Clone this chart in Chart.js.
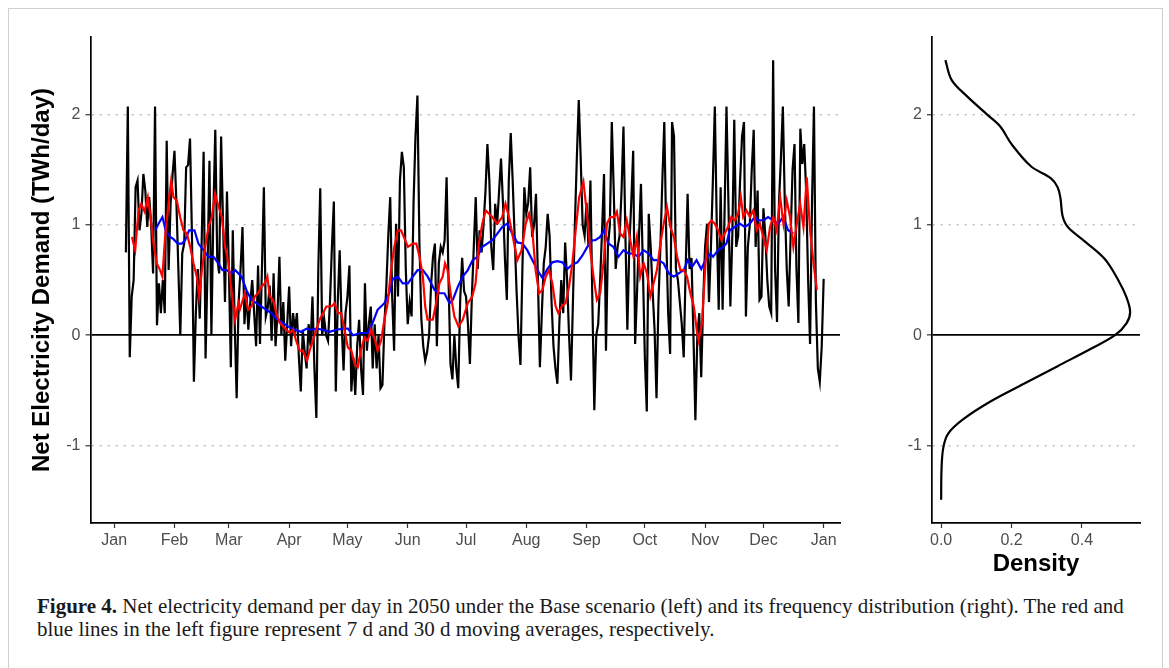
<!DOCTYPE html>
<html>
<head>
<meta charset="utf-8">
<script src="https://cdn.jsdelivr.net/npm/chart.js@4.4.1/dist/chart.umd.min.js"></script>
<style>
  body { margin: 0; background: #fff; width: 1169px; height: 668px; overflow: hidden; position: relative; }
  #frame { position: absolute; left: 8px; top: 8px; width: 1153px; height: 720px; border: 1.5px solid #cfcfcf; }
  #demandCanvas { position: absolute; left: 0; top: 0; }
  #densityCanvas { position: absolute; left: 880px; top: 0; }
  #caption { position: absolute; left: 37px; top: 595px; font-family: 'Liberation Serif', 'Times New Roman', serif; font-size: 21px; line-height: 23px; color: #1a1a1a; white-space: nowrap; }
</style>
</head>
<body>
<div id="frame"></div>
<canvas id="demandCanvas" width="860" height="590"></canvas>
<canvas id="densityCanvas" width="289" height="590"></canvas>
<div id="caption"><b>Figure 4.</b> Net electricity demand per day in 2050 under the Base scenario (left) and its frequency distribution (right). The red and<br>blue lines in the left figure represent 7 d and 30 d moving averages, respectively.</div>
<script>
// axis ticks
const monthTicks = [0, 31, 59, 90, 120, 151, 181, 212, 243, 273, 304, 334, 365];
const monthLabels = ['Jan', 'Feb', 'Mar', 'Apr', 'May', 'Jun', 'Jul', 'Aug', 'Sep', 'Oct', 'Nov', 'Dec', 'Jan'];
const demandTicks = [-1, 0, 1, 2];
const densityTicks = [0, 0.2, 0.4];

// daily net demand (TWh/day), one value per day starting at day 6 of the year
const firstDay = 6;
const dailyDemand = [
  0.75, 2.07, -0.2, 0.35, 0.5, 1.34, 1.4, 0.95, 1.1, 1.46,
  1.31, 0.98, 1.25, 1.0, 0.56, 2.07, 0.09, 0.47, 0.2, 0.5,
  0.2, 1.76, 0.59, 1.19, 1.45, 1.67, 1.2, 0.6, 0.0, 0.74,
  0.83, 1.52, 1.54, 1.78, 0.9, -0.42, 0.2, 0.6, 0.15, 0.85,
  1.66, -0.21, 0.6, 1.58, 0.0, 1.1, 1.86, 0.7, 0.56, 1.8,
  1.0, 0.3, 1.3, 0.6, -0.29, 0.95, 0.1, -0.57, 0.3, 0.6,
  0.98, 0.1, 0.4, 0.05, 0.3, 0.5, 0.2, -0.1, 0.63, -0.08,
  0.6, 1.34, 0.17, 0.25, 0.45, -0.05, 0.56, -0.1, 0.2, 0.71,
  0.0, 0.3, -0.23, 0.1, 0.44, -0.1, 0.2, 0.05, 0.2, -0.2,
  -0.51, 0.05, -0.15, -0.3, 0.1, -0.1, 0.35, -0.3, -0.75, 0.6,
  1.33, 0.0, 0.15, 0.0, -0.05, 0.3, 0.8, 1.21, -0.51, 0.3,
  0.77, 0.1, -0.32, 0.2, 0.35, 0.63, -0.51, -0.2, -0.54, -0.1,
  0.14, -0.3, -0.54, 0.47, -0.14, 0.1, 0.26, -0.3, 0.1, -0.3,
  0.0, -0.48, -0.45, 0.1, 0.44, 0.9, 1.25, 0.35, -0.14, 1.01,
  0.35, 1.4, 1.66, 1.52, 0.6, 0.1, 0.3, 0.17, 1.2, 1.8,
  2.17, 0.85, 0.15, -0.1, -0.23, -0.15, 0.0, 0.45, 0.71, 0.83,
  -0.1, 0.65, 0.8, 0.75, 0.86, 1.43, 0.5, -0.26, -0.4, 0.0,
  -0.3, -0.48, 0.32, 0.7, 0.4, 0.35, 0.1, -0.26, 0.35, 0.8,
  1.25, 0.6, 0.95, 0.75, 1.0, 1.3, 1.73, 1.4, 0.8, 0.59,
  1.19, 1.0, 1.3, 1.6, 1.2, 0.7, 0.32, 1.4, 1.83, 1.4,
  0.9, 0.4, 0.0, -0.27, 0.6, 1.34, 1.1, 1.2, 1.52, 0.89,
  1.0, 1.28, 0.5, -0.29, 0.2, 0.65, 0.8, 1.1, 0.9, 0.3,
  -0.1, -0.3, -0.44, 0.1, 0.5, 0.2, 0.84, 0.5, 0.0, -0.41,
  0.3, 1.0, 1.6, 2.13, 1.6, 1.0, 0.9, 1.2, 0.8, 1.4,
  0.3, -0.68, 0.0, 0.1, 0.5, 0.95, 1.46, -0.14, 0.8, 1.0,
  1.93, 1.3, 0.6, 0.8, 0.9, 1.3, 1.89, 0.9, 0.05, 0.8,
  1.2, 1.67, -0.08, 0.4, 0.9, 1.37, 0.6, -0.2, -0.69, 1.1,
  0.8, 0.4, 0.05, -0.57, 0.3, 0.8, 1.4, 1.93, 0.9, 0.2,
  -0.17, 1.93, 1.8, 0.6, 0.5, 0.3, 0.1, -0.2, 0.6, 1.28,
  0.6, 0.7, 0.0, -0.77, 0.0, 0.2, -0.38, 0.3, 0.8, 1.01,
  0.3, 0.8, 1.4, 2.07, 1.0, 0.23, 1.34, 0.23, 1.1, 2.07,
  1.2, 0.26, 0.9, 1.95, 0.8, 0.9, 1.4, 1.8, 1.93, 0.17,
  0.8, 1.0, 1.5, 1.86, 0.8, 1.31, 0.32, 0.35, 1.15, 0.9,
  0.5, 0.26, 0.2, 2.49, 0.6, 0.12, 1.2, 1.6, 2.07, 1.2,
  0.6, 0.26, 0.9, 1.5, 1.73, 0.6, 0.11, 1.87, 1.55, 1.73,
  1.3, 0.5, -0.08, 1.2, 2.07, 0.3, -0.3, -0.42, -0.1, 0.51
];

// 7 d moving average (red)
const ma7Days = [
  9.1, 10.8, 12.5, 13.9, 15.6, 17.3, 18.5, 20.2, 21.9, 23.6, 24.8, 26.2, 27.9, 29.3, 30.5, 32.2, 33.9, 35.6, 37.4, 39.1,
  40.8, 42.5, 43.7, 45.1, 46.8, 48.5, 50.2, 51.9, 53.3, 55.3, 57.1, 58.8, 60.5, 62.2, 63.9, 64.6, 67.2, 68.9, 70.6, 72.3,
  74.0, 75.7, 77.5, 78.8, 80.0, 81.7, 83.4, 85.2, 86.9, 88.6, 90.3, 92.0, 93.6, 95.4, 97.0, 99.2, 100.5, 102.2, 104.0, 105.7,
  107.4, 109.1, 111.7, 113.4, 115.1, 116.8, 118.5, 120.2, 122.0, 123.7, 125.3, 126.9, 128.7, 130.4, 132.1, 133.8, 135.5, 137.3, 139.0, 140.7,
  142.4, 144.1, 145.9, 147.6, 151.1, 153.6, 155.4, 157.1, 158.8, 160.0, 161.2, 163.9, 165.6, 167.3, 169.0, 170.2, 171.5, 173.3, 175.0, 177.1,
  179.3, 181.9, 184.2, 185.9, 187.6, 189.4, 191.1, 192.8, 194.5, 197.1, 199.6, 201.3, 203.1, 205.1, 207.4, 209.6, 211.7, 213.4, 215.1, 216.8,
  218.6, 220.3, 222.0, 223.7, 225.4, 227.1, 228.5, 230.2, 232.2, 234.0, 235.7, 237.4, 239.2, 241.4, 243.4, 244.9, 246.6, 248.3, 250.0, 251.7,
  253.5, 255.2, 257.2, 258.6, 260.3, 262.0, 263.7, 265.5, 267.2, 268.9, 270.6, 272.4, 274.1, 275.8, 277.5, 279.2, 281.0, 282.7, 284.4, 286.1,
  287.9, 289.6, 291.3, 293.0, 294.7, 296.4, 298.2, 299.9, 300.7, 302.4, 304.2, 305.9, 307.3, 309.0, 310.7, 312.4, 314.1, 315.8, 317.5, 319.3,
  321.0, 322.4, 323.6, 325.3, 327.0, 328.8, 330.5, 332.2, 333.9, 335.7, 337.4, 339.1, 340.8, 342.6, 344.3, 346.0, 347.7, 349.4, 351.2, 352.9,
  354.6, 356.3, 358.0, 359.8, 361.5
];
const ma7Values = [
  0.89, 0.77, 1.13, 1.19, 1.12, 1.25, 1.1, 0.83, 0.65, 0.59, 0.53, 0.89, 1.19, 1.4, 1.25, 1.22, 1.07, 0.95, 0.92, 0.8,
  0.65, 0.53, 0.35, 0.59, 0.8, 0.98, 1.07, 1.28, 1.19, 1.07, 0.8, 0.65, 0.38, 0.14, 0.29, 0.23, 0.38, 0.23, 0.26, 0.35,
  0.38, 0.44, 0.47, 0.53, 0.35, 0.32, 0.2, 0.11, 0.08, 0.05, 0.02, 0.05, -0.05, -0.14, -0.14, -0.23, -0.14, -0.05, 0.05, 0.14,
  0.2, 0.26, 0.26, 0.29, 0.2, 0.2, 0.05, -0.11, -0.14, -0.26, -0.29, -0.14, -0.02, -0.05, 0.05, -0.02, -0.14, -0.05, 0.14, 0.29,
  0.59, 0.8, 0.95, 0.95, 0.8, 0.83, 0.83, 0.71, 0.53, 0.26, 0.14, 0.14, 0.29, 0.47, 0.53, 0.65, 0.59, 0.35, 0.17, 0.08,
  0.14, 0.29, 0.35, 0.47, 0.83, 1.01, 1.13, 1.1, 1.07, 1.01, 1.07, 1.19, 1.07, 0.89, 0.68, 0.77, 1.01, 1.1, 0.95, 0.59,
  0.38, 0.41, 0.53, 0.59, 0.47, 0.26, 0.2, 0.26, 0.29, 0.44, 0.65, 0.95, 1.25, 1.39, 1.07, 0.77, 0.53, 0.32, 0.38, 0.65,
  1.01, 1.07, 1.07, 1.12, 0.92, 0.89, 1.04, 0.86, 0.71, 0.89, 0.53, 0.65, 0.56, 0.35, 0.47, 0.59, 0.83, 1.01, 1.16, 0.98,
  0.89, 0.71, 0.59, 0.59, 0.53, 0.38, 0.26, 0.02, -0.05, 0.11, 0.65, 1.01, 1.04, 1.01, 0.95, 0.86, 0.92, 0.98, 1.07, 1.04,
  1.1, 1.25, 1.07, 1.13, 1.07, 1.13, 0.95, 1.01, 0.89, 0.77, 0.98, 1.07, 0.95, 1.25, 1.01, 1.22, 1.07, 0.8, 1.01, 1.19,
  0.98, 1.43, 0.95, 0.65, 0.41
];

// 30 d moving average (blue)
const ma30Days = [
  21.1, 22.8, 24.8, 26.5, 28.8, 30.5, 32.7, 34.8, 36.5, 38.5, 41.3, 43.3, 45.9, 48.5, 51.1, 53.6, 55.7, 57.9, 60.5, 62.2,
  63.9, 65.5, 68.0, 70.6, 73.2, 75.7, 78.3, 80.9, 83.4, 86.9, 89.4, 92.9, 96.3, 98.9, 101.4, 104.0, 107.4, 110.9, 114.3, 117.7,
  120.2, 122.8, 126.9, 130.4, 132.9, 135.5, 139.0, 141.5, 143.3, 145.9, 148.4, 151.1, 153.6, 156.1, 158.8, 161.3, 164.8, 167.3, 169.9, 172.5,
  174.2, 176.8, 179.3, 181.9, 184.4, 186.8, 189.4, 191.9, 194.5, 197.1, 199.6, 202.2, 204.8, 207.4, 210.0, 212.5, 215.1, 217.7, 220.3, 222.9,
  225.4, 228.0, 230.6, 233.2, 235.7, 238.3, 240.8, 243.4, 246.0, 247.5, 250.0, 252.1, 254.3, 256.8, 259.4, 262.0, 264.5, 267.1, 269.7, 272.4,
  274.9, 277.5, 280.1, 282.7, 285.3, 287.9, 290.4, 293.0, 295.1, 297.3, 299.6, 302.0, 304.2, 306.8, 308.1, 310.7, 313.3, 315.0, 316.7, 319.3,
  321.8, 324.4, 327.0, 329.6, 331.3, 333.9, 336.4, 339.0, 341.6, 344.2, 346.7, 349.4
];
const ma30Values = [
  0.95, 1.01, 1.07, 0.95, 0.89, 0.87, 0.83, 0.83, 0.86, 0.95, 0.95, 0.83, 0.77, 0.71, 0.71, 0.65, 0.59, 0.59, 0.56, 0.59,
  0.56, 0.53, 0.41, 0.32, 0.29, 0.26, 0.23, 0.2, 0.15, 0.11, 0.08, 0.05, 0.03, 0.06, 0.05, 0.06, 0.05, 0.03, 0.05, 0.06,
  0.06, 0.0, 0.02, 0.02, 0.11, 0.23, 0.29, 0.38, 0.51, 0.53, 0.47, 0.47, 0.53, 0.59, 0.59, 0.53, 0.41, 0.38, 0.38, 0.29,
  0.32, 0.44, 0.53, 0.59, 0.68, 0.71, 0.8, 0.83, 0.86, 0.92, 0.98, 1.01, 0.92, 0.84, 0.83, 0.77, 0.68, 0.59, 0.52, 0.6,
  0.66, 0.67, 0.66, 0.6, 0.64, 0.66, 0.72, 0.8, 0.86, 0.86, 0.89, 0.95, 0.83, 0.8, 0.71, 0.77, 0.74, 0.74, 0.71, 0.77,
  0.74, 0.68, 0.68, 0.65, 0.56, 0.53, 0.56, 0.59, 0.68, 0.62, 0.68, 0.6, 0.68, 0.74, 0.71, 0.77, 0.8, 0.83, 0.95, 0.98,
  1.01, 0.98, 1.01, 1.07, 1.04, 1.04, 1.07, 1.04, 1.01, 1.07, 0.95, 0.92
];

// density of daily demand (right panel)
const densityLevels = [2.49, 2.31, 2.165, 2.0, 1.89, 1.73, 1.53, 1.42, 1.34, 1.24, 1.08, 0.98, 0.85, 0.69, 0.5, 0.34, 0.21, 0.11, 0.0, -0.12, -0.28, -0.44, -0.6, -0.76, -0.89, -1.02, -1.22, -1.49];
const densityValues = [0.012, 0.03, 0.073, 0.13, 0.168, 0.2, 0.255, 0.312, 0.331, 0.339, 0.345, 0.36, 0.408, 0.465, 0.503, 0.527, 0.537, 0.527, 0.494, 0.427, 0.331, 0.235, 0.14, 0.063, 0.02, 0.006, 0.001, 0.0];

const tickFont = { family: "'Liberation Sans', Arial, sans-serif", size: 16 };
const titleFont = { family: "'Liberation Sans', Arial, sans-serif", size: 24, weight: 'bold' };

function yAxisGrid() {
    return {
        color: c => (c.tick && c.tick.value === 0) ? '#000000' : '#bdbdbd',
        lineWidth: c => (c.tick && c.tick.value === 0) ? 1.7 : 1.5,
        drawTicks: true,
        tickLength: 5,
        tickColor: '#333333',
        tickWidth: 1.2
    };
}
function yAxisBorder() {
    return {
        color: '#000000',
        width: 1.7,
        dash: c => (c.tick && c.tick.value === 0) ? [] : [2, 6]
    };
}

// Grafic 1: cererea zilnica
const demandPoints = dailyDemand.map((v, i) => ({ x: firstDay + i, y: v }));
const ma7Points = ma7Days.map((d, i) => ({ x: d, y: ma7Values[i] }));
const ma30Points = ma30Days.map((d, i) => ({ x: d, y: ma30Values[i] }));

new Chart(document.getElementById('demandCanvas').getContext('2d'), {
    type: 'line',
    data: {
        datasets: [
            { data: demandPoints, borderColor: '#000000', borderWidth: 2.2, pointRadius: 0, tension: 0, order: 3 },
            { data: ma30Points, borderColor: '#0000ff', borderWidth: 2.2, pointRadius: 0, tension: 0, order: 2 },
            { data: ma7Points, borderColor: '#ff0000', borderWidth: 2.2, pointRadius: 0, tension: 0, order: 1 }
        ]
    },
    options: {
        responsive: false,
        animation: false,
        events: [],
        layout: { padding: { left: 24, right: 20, top: 37, bottom: 7 } },
        plugins: { legend: { display: false }, tooltip: { enabled: false } },
        scales: {
            x: {
                type: 'linear',
                min: -12.2,
                max: 373.4,
                afterFit: s => { s.height = 60; },
                afterBuildTicks: s => { s.ticks = monthTicks.map(v => ({ value: v })); },
                ticks: { font: tickFont, color: '#4d4d4d', padding: 3, maxRotation: 0, callback: (v, i) => monthLabels[i] },
                grid: { drawOnChartArea: false, drawTicks: true, tickLength: 5, tickColor: '#333333', tickWidth: 1.2 },
                border: { color: '#000000', width: 1.7 }
            },
            y: {
                type: 'linear',
                min: -1.7,
                max: 2.7,
                afterFit: s => { s.width = 66.5; },
                afterBuildTicks: s => { s.ticks = demandTicks.map(v => ({ value: v })); },
                ticks: { font: tickFont, color: '#4d4d4d', padding: 5, callback: v => String(v) },
                grid: yAxisGrid(),
                border: yAxisBorder(),
                title: { display: true, text: 'Net Electricity Demand (TWh/day)', font: titleFont, color: '#000000' }
            }
        }
    }
});

// Grafic 2: densitate
const densityPoints = densityLevels.map((lvl, i) => ({ x: densityValues[i], y: lvl }));

new Chart(document.getElementById('densityCanvas').getContext('2d'), {
    type: 'line',
    data: {
        datasets: [
            { data: densityPoints, borderColor: '#000000', borderWidth: 2.2, pointRadius: 0, tension: 0.35 }
        ]
    },
    options: {
        responsive: false,
        animation: false,
        events: [],
        layout: { padding: { left: 10, right: 29, top: 37, bottom: 7 } },
        plugins: { legend: { display: false }, tooltip: { enabled: false } },
        scales: {
            x: {
                type: 'linear',
                min: -0.026,
                max: 0.565,
                afterFit: s => { s.height = 60; },
                afterBuildTicks: s => { s.ticks = densityTicks.map(v => ({ value: v })); },
                ticks: { font: tickFont, color: '#4d4d4d', padding: 3, maxRotation: 0, callback: v => v.toFixed(1) },
                grid: { drawOnChartArea: false, drawTicks: true, tickLength: 5, tickColor: '#333333', tickWidth: 1.2 },
                border: { color: '#000000', width: 1.7 },
                title: { display: true, text: 'Density', font: titleFont, color: '#000000', padding: { top: 0, bottom: 4 } }
            },
            y: {
                type: 'linear',
                min: -1.7,
                max: 2.7,
                afterFit: s => { s.width = 42; },
                afterBuildTicks: s => { s.ticks = demandTicks.map(v => ({ value: v })); },
                ticks: { font: tickFont, color: '#4d4d4d', padding: 5, callback: v => String(v) },
                grid: yAxisGrid(),
                border: yAxisBorder()
            }
        }
    }
});
</script>
</body>
</html>
